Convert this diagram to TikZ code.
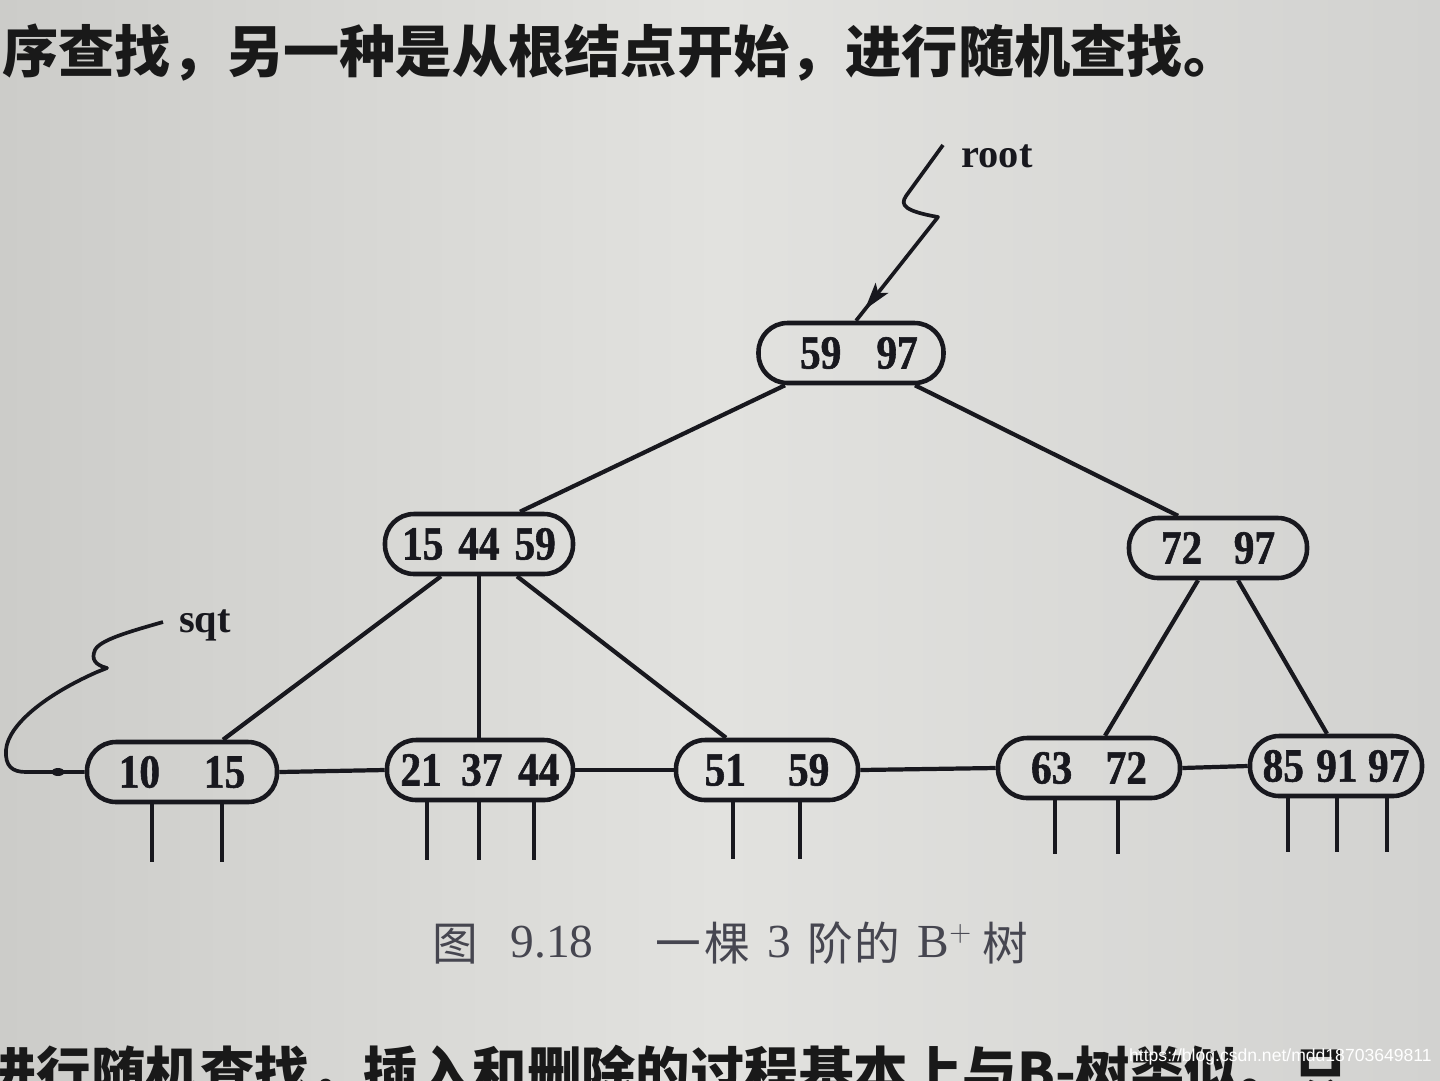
\documentclass[tikz,border=0pt]{standalone}
\usepackage{fontspec}
\setmainfont{Liberation Serif}
\newfontfamily\numfont{Liberation Serif}[FakeStretch=0.87, FakeBold=1.2]
\newfontfamily\cjkfont{Noto Sans CJK SC}
\newfontfamily\wmfont{Liberation Sans}
\usetikzlibrary{arrows.meta,calc,decorations.markings}
\definecolor{paperL}{RGB}{204,204,201}
\definecolor{paperM}{RGB}{226,226,223}
\definecolor{paperR}{RGB}{210,210,208}
\definecolor{ink}{RGB}{24,24,30}
\definecolor{capink}{RGB}{70,70,80}
\begin{document}
\begin{tikzpicture}[x=0.02cm,y=-0.02cm,
  keybox/.style={draw=ink, line width=2.6pt, rounded corners=0.58cm,
    minimum height=1.2cm, minimum width=#1*0.02cm, inner sep=0pt, text=ink,
    font=\fontsize{27}{29}\selectfont\numfont\bfseries},
  link/.style={draw=ink, line width=2.4pt},
  stub/.style={draw=ink, line width=2.4pt},
  ptr/.style={draw=ink, line width=2.1pt, line join=round, postaction={decorate},
    decoration={markings, mark=at position -0.28cm with {\arrow{Stealth[length=0.55cm,width=0.32cm,inset=0.12cm]}}}},
  lbl/.style={anchor=base, inner sep=0pt, text=ink, font=\fontsize{23}{25}\selectfont\bfseries},
  captxt/.style={anchor=base, inner sep=0pt, text=capink, font=\fontsize{26}{28}\selectfont\cjkfont},
  capnum/.style={anchor=base, inner sep=0pt, text=capink, font=\fontsize{27}{29}\selectfont},
  prose/.style={anchor=base west, inner sep=0pt, text=black!90, font=\fontsize{32}{34}\selectfont\cjkfont\bfseries}
]
\useasboundingbox (0,0) rectangle (1440,1080);
\clip (0,0) rectangle (1440,1080);
\shade[left color=paperL, right color=paperR, middle color=paperM] (0,0) rectangle (1440,1080);

% prose
\node[prose] (line1) at (2,72) {序查找，另一种是从根结点开始，进行随机查找。};
\node[prose, font=\fontsize{31}{33}\selectfont\cjkfont\bfseries] (line3) at (-18,1092) {进行随机查找，插入和删除的过程基本上与B-树类似。只};

% nodes
\node[keybox=185] (root) at (851,353) {\hspace{9pt}59\hspace{20pt}97};
\node[keybox=188] (A) at (479,544) {15\hspace{8.5pt}44\hspace{8.5pt}59};
\node[keybox=178] (B) at (1218,548) {72\hspace{18pt}97};
\node[keybox=190] (L1) at (182,772) {10\hspace{25pt}15};
\node[keybox=186] (L2) at (480,770) {21\hspace{11pt}37\hspace{9pt}44};
\node[keybox=182] (L3) at (767,770) {51\hspace{24pt}59};
\node[keybox=182] (L4) at (1089,768) {63\hspace{19pt}72};
\node[keybox=172] (L5) at (1336,766) {85\hspace{7pt}91\hspace{6pt}97};

% tree edges
\draw[link] ($(root.south)+(-66,0)$) -- ($(A.north)+(41,0)$);
\draw[link] ($(root.south)+(64,0)$) -- ($(B.north)+(-40,0)$);
\draw[link] ($(A.south)+(-38,0)$) -- ($(L1.north)+(41,0)$);
\draw[link] ($(A.south)+(0,0)$) -- ($(L2.north)+(-1,0)$);
\draw[link] ($(A.south)+(38,0)$) -- ($(L3.north)+(-41,0)$);
\draw[link] ($(B.south)+(-20,0)$) -- ($(L4.north)+(16,0)$);
\draw[link] ($(B.south)+(20,0)$) -- ($(L5.north)+(-9,0)$);

% leaf chain
\draw[link] (L1.east) -- (L2.west);
\draw[link] (L2.east) -- (L3.west);
\draw[link] (L3.east) -- (L4.west);
\draw[link] (L4.east) -- (L5.west);

% record stubs
\draw[stub] ($(L1.south)+(-30,0)$) -- ++(0,58);
\draw[stub] ($(L1.south)+(40,0)$) -- ++(0,58);
\draw[stub] ($(L2.south)+(-53,0)$) -- ++(0,58);
\draw[stub] ($(L2.south)+(-1,0)$) -- ++(0,58);
\draw[stub] ($(L2.south)+(54,0)$) -- ++(0,58);
\draw[stub] ($(L3.south)+(-34,0)$) -- ++(0,57);
\draw[stub] ($(L3.south)+(33,0)$) -- ++(0,57);
\draw[stub] ($(L4.south)+(-34,0)$) -- ++(0,54);
\draw[stub] ($(L4.south)+(29,0)$) -- ++(0,54);
\draw[stub] ($(L5.south)+(-48,0)$) -- ++(0,54);
\draw[stub] ($(L5.south)+(1,0)$) -- ++(0,54);
\draw[stub] ($(L5.south)+(51,0)$) -- ++(0,54);

% root pointer
\coordinate (rootstart) at (943,145);
\node[lbl] (rootlbl) at (997,167) {root};
\draw[ptr] (rootstart) -- (906,196) .. controls (900,205) and (904,211) .. (938,217)
  -- ($(root.north)+(5,0)$);

% sqt pointer
\coordinate (sqtstart) at (163,622);
\node[lbl] (sqtlbl) at (205,632) {sqt};
\draw[link, line width=2.1pt, line join=round] (sqtstart) .. controls (128,632) and (100,640) .. (95,650)
  .. controls (91,659) and (95,665) .. (107,668) -- (97,672)
  .. controls (45,695) and (8,725) .. (6,750)
  .. controls (5,766) and (12,772) .. (26,772) -- (L1.west);
\coordinate (sqtdot) at (58,772);
\fill[ink] (sqtdot) ellipse [x radius=0.13cm, y radius=0.08cm];

% caption
\node[captxt] (c1) at (455,960) {图};
\node[capnum] (c2) at (552,957) {9.18};
\node[captxt] (c3) at (678,960) {一};
\node[captxt] (c4) at (727,960) {棵};
\node[capnum] (c5) at (779,957) {3};
\node[captxt] (c6) at (830,960) {阶};
\node[captxt] (c7) at (877,960) {的};
\node[capnum] (c8) at (945,957) {B$^+$};
\node[captxt] (c9) at (1005,960) {树};

% watermark
\node[anchor=east, inner sep=0pt, text=white, font=\fontsize{10}{12}\selectfont\wmfont] (wm) at (1432,1057) {https://blog.csdn.net/mdd18703649811};
\end{tikzpicture}
\end{document}
